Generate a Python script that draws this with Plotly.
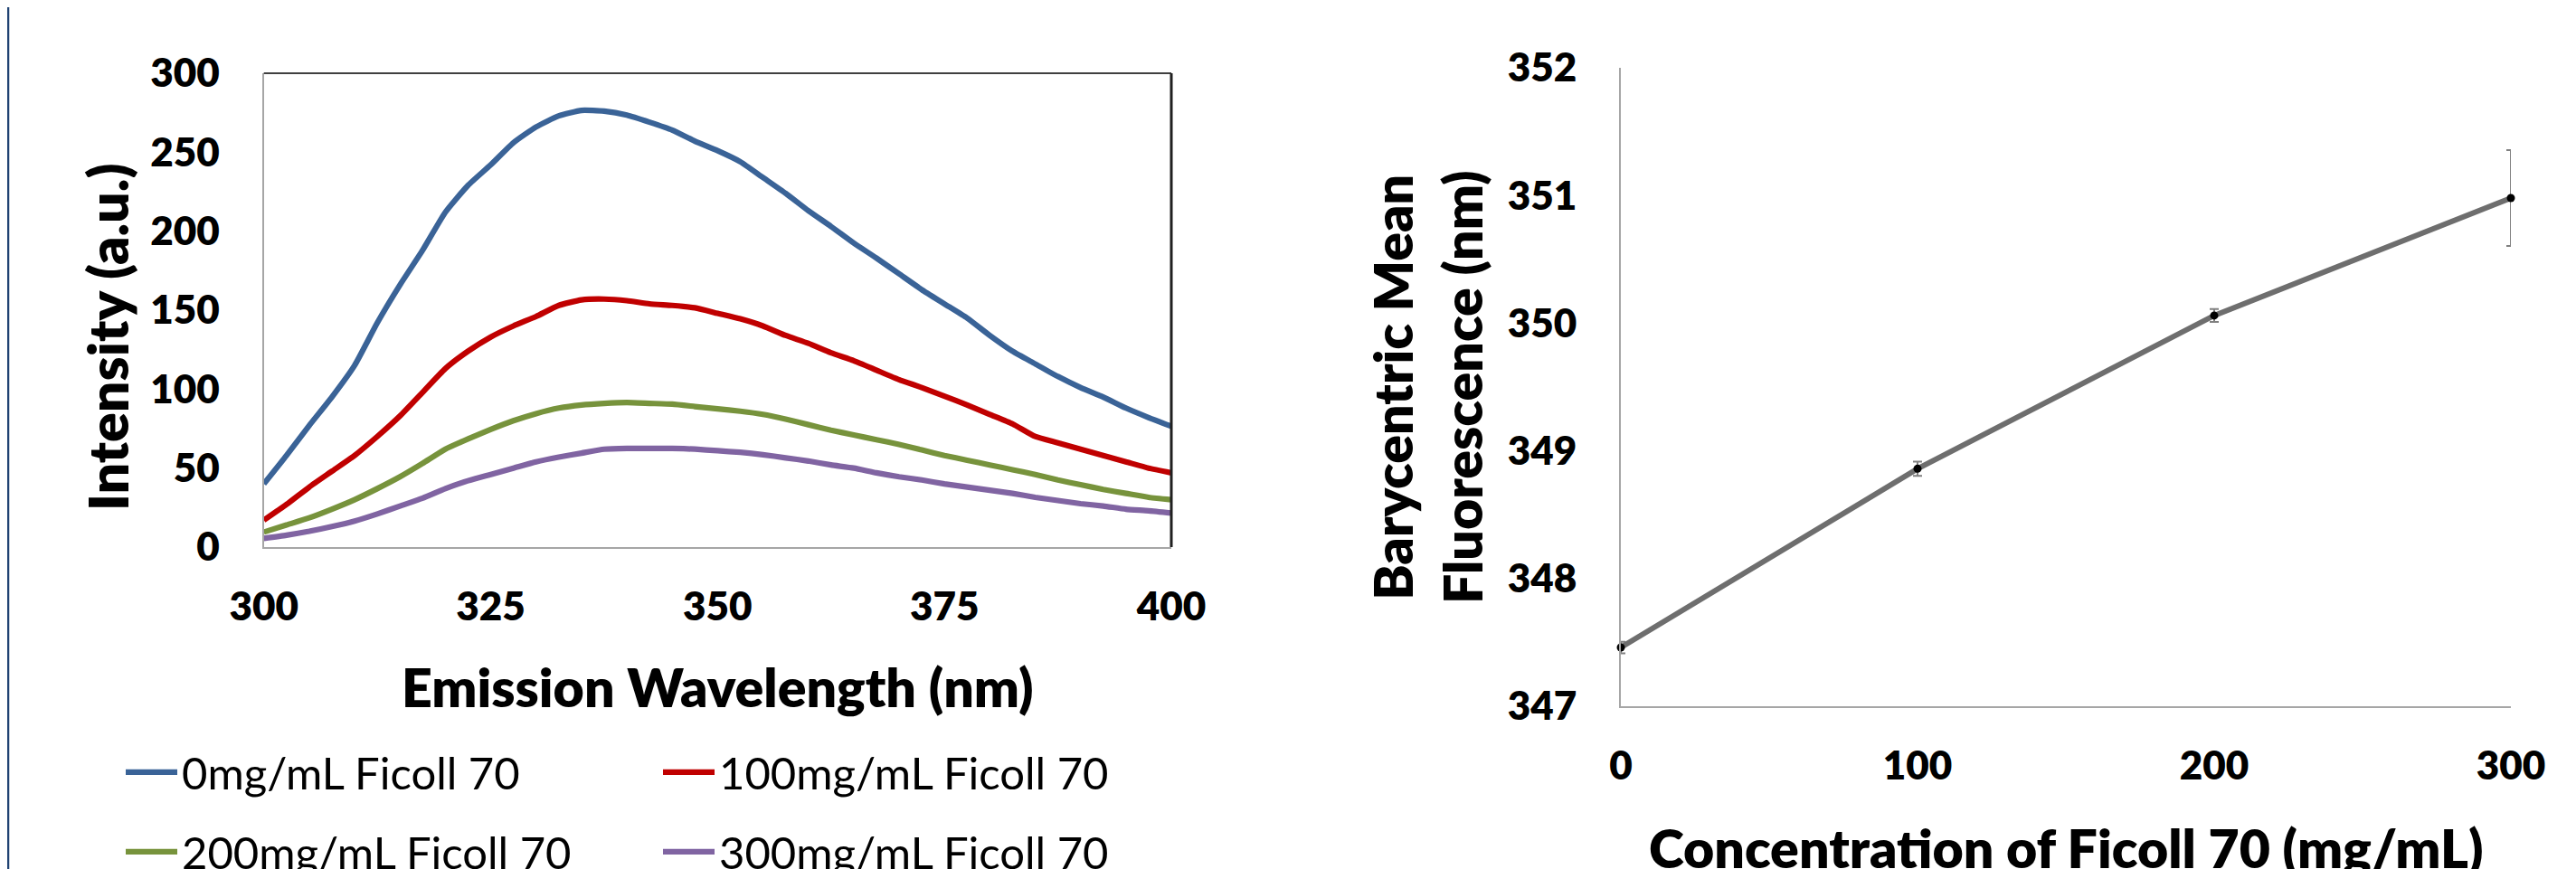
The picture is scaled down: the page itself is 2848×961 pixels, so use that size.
import plotly.graph_objects as go

# ---------------- data ----------------
wavelength = [300, 302.5, 305, 307.5, 310, 312.5, 315, 317.5, 320, 322.5,
              325, 327.5, 330, 332.5, 335, 337.5, 340, 342.5, 345, 347.5,
              350, 352.5, 355, 357.5, 360, 362.5, 365, 367.5, 370, 372.5,
              375, 377.5, 380, 382.5, 385, 387.5, 390, 392.5, 395, 397.5, 400]

int_0 = [40, 58, 77, 95, 115, 142, 166, 188, 212, 229,
         242, 256, 266, 273, 276.5, 276, 273.5, 269, 264, 257,
         251, 244, 234, 224, 213, 203, 192.5, 183, 173, 163,
         154, 145, 134, 124, 116, 108, 101, 95, 88, 82, 76.5]

int_100 = [17, 27, 38, 48, 58, 70, 83, 98, 113, 124,
           133, 140, 146, 153, 156.5, 157, 156, 154, 153, 151.5,
           148, 144.5, 140, 134, 129, 123, 118, 112, 106, 101,
           95.5, 90, 84, 78, 70, 66, 62, 58, 54, 50, 47]

int_200 = [9.5, 14, 18.5, 24, 30, 37, 44.5, 53, 62, 68.5,
           74.5, 80, 84.5, 88, 90, 91, 91.5, 91, 90.5, 89,
           87.5, 86, 84, 81, 77.5, 74, 71, 68, 65, 61.5,
           58, 55, 52, 49, 46, 42.5, 39.5, 36.5, 34, 31.5, 30]

int_300 = [5.5, 7.5, 10, 13, 16.5, 21, 26, 31, 37, 42,
           46, 50, 54, 57, 59.5, 62, 62.5, 62.5, 62.5, 62,
           61, 60, 58.5, 56.5, 54.5, 52, 50, 47, 44.5, 42.5,
           40, 38, 36, 34, 31.5, 29.5, 27.5, 26, 24, 23, 21.5]

series_names = ["0mg/mL Ficoll 70", "100mg/mL Ficoll 70",
                "200mg/mL Ficoll 70", "300mg/mL Ficoll 70"]

wl_ticks = [300, 325, 350, 375, 400]
int_ticks = [0, 50, 100, 150, 200, 250, 300]

conc = [0, 100, 200, 300]
bmf = [347.46, 348.86, 350.06, 350.98]
bmf_err = [0.045, 0.055, 0.05, 0.375]
conc_ticks = [0, 100, 200, 300]
bmf_ticks = [347, 348, 349, 350, 351, 352]

# ---------------- style ----------------
OFF = 8                      # default page margin of the html body
W, H = 2848 - OFF, 961 - OFF
FONT = "Lato"
colors = ["#3A6397", "#C00000", "#77933C", "#8064A2"]


def px(xs):
    """screen x (px) -> paper fraction"""
    return (xs - OFF) / W


def py(ys):
    """screen y (px from top) -> paper fraction"""
    return 1 - (ys - OFF) / H


fig = go.Figure()

all_int = [int_0, int_100, int_200, int_300]
for i, (nm, vals, col) in enumerate(zip(series_names, all_int, colors)):
    fig.add_trace(go.Scatter(
        x=wavelength, y=vals, mode="lines", name=nm,
        line=dict(color=col, width=6.2, shape="spline", smoothing=0.5),
        xaxis="x", yaxis="y",
        legend="legend" if i < 2 else "legend2",
    ))

fig.add_trace(go.Scatter(
    x=conc, y=bmf, mode="lines+markers", showlegend=False,
    line=dict(color="#6E6E6E", width=6),
    marker=dict(color="black", size=9),
    error_y=dict(type="data", array=bmf_err, color="#808080", thickness=2, width=5),
    xaxis="x2", yaxis="y2", cliponaxis=False,
))

tickfont = dict(family=FONT, size=44, color="black", weight=800)
axis_common = dict(showgrid=False, zeroline=False, ticks="", showline=True,
                   linecolor="#A6A6A6", linewidth=2, tickfont=tickfont)

legend_common = dict(orientation="h", xanchor="left", yanchor="middle",
                     font=dict(family=FONT, size=49, color="black"),
                     entrywidth=522, entrywidthmode="pixels",
                     itemwidth=57, bgcolor="rgba(0,0,0,0)",
                     x=px(134))

title_font = dict(family=FONT, color="black", weight=800)

fig.update_layout(
    width=W, height=H,
    paper_bgcolor="white", plot_bgcolor="white",
    margin=dict(l=0, r=0, t=0, b=0, autoexpand=False),
    font=dict(family=FONT, color="black"),
    xaxis=dict(domain=[px(291.7), px(1295)], range=[300, 400],
               tickvals=wl_ticks, anchor="y", ticklabelstandoff=26, **axis_common),
    yaxis=dict(domain=[py(605), py(81)], range=[0, 300],
               tickvals=int_ticks, anchor="x", ticklabelstandoff=38, **axis_common),
    xaxis2=dict(domain=[px(1792), px(2776)], range=[0, 300],
                tickvals=conc_ticks, anchor="y2", ticklabelstandoff=26, **axis_common),
    yaxis2=dict(domain=[py(781), py(75)], range=[347, 352],
                tickvals=bmf_ticks, anchor="x2", ticklabelstandoff=38, **axis_common),
    legend=dict(y=py(854), **legend_common),
    legend2=dict(y=py(942), **legend_common),
    shapes=[
        # top & right frame of the spectrum plot
        dict(type="line", xref="x domain", yref="y domain", x0=0, x1=1, y0=1, y1=1,
             line=dict(color="#404040", width=2)),
        dict(type="line", xref="x domain", yref="y domain", x0=1, x1=1, y0=0, y1=1,
             line=dict(color="#202020", width=3)),
        # navy border on the far left
        dict(type="line", xref="paper", yref="paper", x0=px(8.5), x1=px(8.5), y0=0, y1=1,
             line=dict(color="#1F4272", width=3.5)),
    ],
    annotations=[
        dict(text="Emission Wavelength (nm)", xref="paper", yref="paper",
             x=px(793), y=py(759), xanchor="center", yanchor="middle",
             showarrow=False, font=dict(size=59, **title_font)),
        dict(text="Intensity (a.u.)", xref="paper", yref="paper",
             x=px(118), y=py(372), xanchor="center", yanchor="middle", textangle=-90,
             showarrow=False, font=dict(size=61, **title_font)),
        dict(text="Concentration of Ficoll 70 (mg/mL)", xref="paper", yref="paper",
             x=px(2284), y=py(937), xanchor="center", yanchor="middle",
             showarrow=False, font=dict(size=59, **title_font)),
        dict(text="Barycentric Mean<br>Fluorescence (nm)", xref="paper", yref="paper",
             x=px(1578), y=py(428), xanchor="center", yanchor="middle", textangle=-90,
             showarrow=False, font=dict(size=59, **title_font)),
    ],
)

fig.write_html("out.html")
